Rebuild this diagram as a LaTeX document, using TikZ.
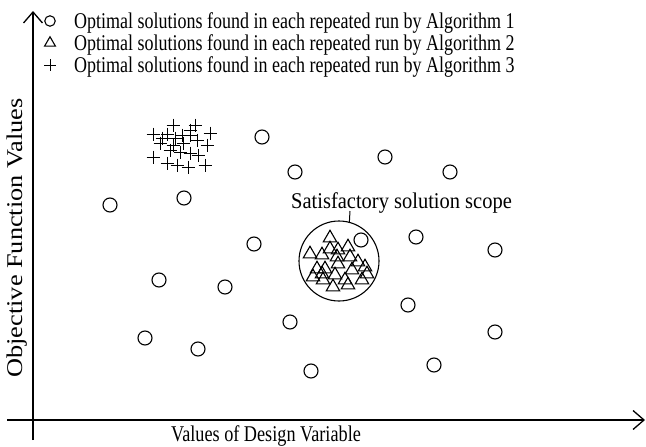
\documentclass[tikz,border=0pt]{standalone}
\usepackage{fontspec}
\setmainfont{Liberation Serif}
\usetikzlibrary{arrows.meta,shapes.geometric,calc}
\newcommand{\hsq}[2]{\scalebox{#1}[1]{#2}}
\begin{document}
\begin{tikzpicture}[x=1pt,y=-1pt,
  axisline/.style={line width=1.3pt,-{Straight Barb[length=11pt,width=19pt,line width=1.3pt]}},
  solc/.style={circle,draw,line width=1.1pt,minimum size=14pt,inner sep=0pt,outer sep=0pt},
  soltri/.style={regular polygon,regular polygon sides=3,draw,line width=1.1pt,minimum size=15.5pt,inner sep=0pt,outer sep=0pt},
  solplus/.style={line width=1pt},
  scopec/.style={circle,draw,line width=1.1pt,minimum size=80pt,inner sep=0pt,outer sep=0pt},
  txt/.style={font=\fontsize{22.5}{24}\selectfont,inner sep=0pt}]
\useasboundingbox (0,0) rectangle (646,447);
% axes
\coordinate (yb) at (33,440);
\coordinate (yt) at (33,11);
\coordinate (xl) at (7,420);
\coordinate (xr) at (645,420);
\draw[axisline] (yb) -- (yt);
\draw[axisline] (xl) -- (xr);
\node[txt,rotate=90,anchor=base] (ylab) at (22,238) {\hsq{1.17}{Objective Function Values}};
\node[txt,anchor=base] (xlab) at (266,441.5) {\hsq{0.81}{Values of Design Variable}};
% legend
\node[solc,minimum size=10.5pt] (lc) at (50,21) {};
\node[soltri,minimum size=12.5pt] (lt) at (50,43) {};
\coordinate (lp) at (50,65);
\draw[solplus] ($(lp)+(-6,0)$) -- ($(lp)+(6,0)$) ($(lp)+(0,-6)$) -- ($(lp)+(0,6)$);
\node[txt,anchor=base west] (l1) at (74,28) {\hsq{0.8}{Optimal solutions found in each repeated run by Algorithm 1}};
\node[txt,anchor=base west] (l2) at (74,50) {\hsq{0.8}{Optimal solutions found in each repeated run by Algorithm 2}};
\node[txt,anchor=base west] (l3) at (74,72) {\hsq{0.8}{Optimal solutions found in each repeated run by Algorithm 3}};
% circles (algorithm 1)
\foreach \i/\x/\y in {1/110/205,2/184/198,3/262/137,4/295/172,5/385/157,6/450/172,7/254/244,8/159/280,9/225/287,10/145/338,11/198/349,12/290/322,13/311/371,14/361/240,15/416/237,16/495/250,17/408/305,18/495/332,19/434/365}
  \node[solc] (c\i) at (\x,\y) {};
% scope circle
\node[scopec] (scope) at (339,261) {};
\node[txt,anchor=base west] (scopelab) at (291,208) {\hsq{0.91}{Satisfactory solution scope}};
\coordinate (lead) at (350,211);
\draw[line width=1pt] (lead) -- (scope.75);
% triangles (algorithm 2)
\foreach \i/\x/\y in {1/330/238,2/310/254,3/322/255,4/330/249,5/338/250,6/348/247,7/350/257,8/358/262,9/317/269,10/325/269,11/338/264,12/352/270,13/365/267,14/367/274,15/313/277,16/323/280,17/335/275,18/345/280,19/362/280,20/333/287,21/348/285,22/322/274,23/337/257}
  \node[soltri] (t\i) at (\x,\y) {};
% crosses (algorithm 3)
\foreach \x/\y in {173/125,195/125,153/134,167/134,182/135,190/135,210/133,160/143,173/145,183/143,197/140,207/145,170/150,153/157,180/152,190/153,198/155,167/163,177/165,188/167,205/165,162/138,175/138,190/130}
  \draw[solplus] (\x-6.5,\y) -- (\x+6.5,\y) (\x,\y-6.5) -- (\x,\y+6.5);
\end{tikzpicture}
\end{document}
